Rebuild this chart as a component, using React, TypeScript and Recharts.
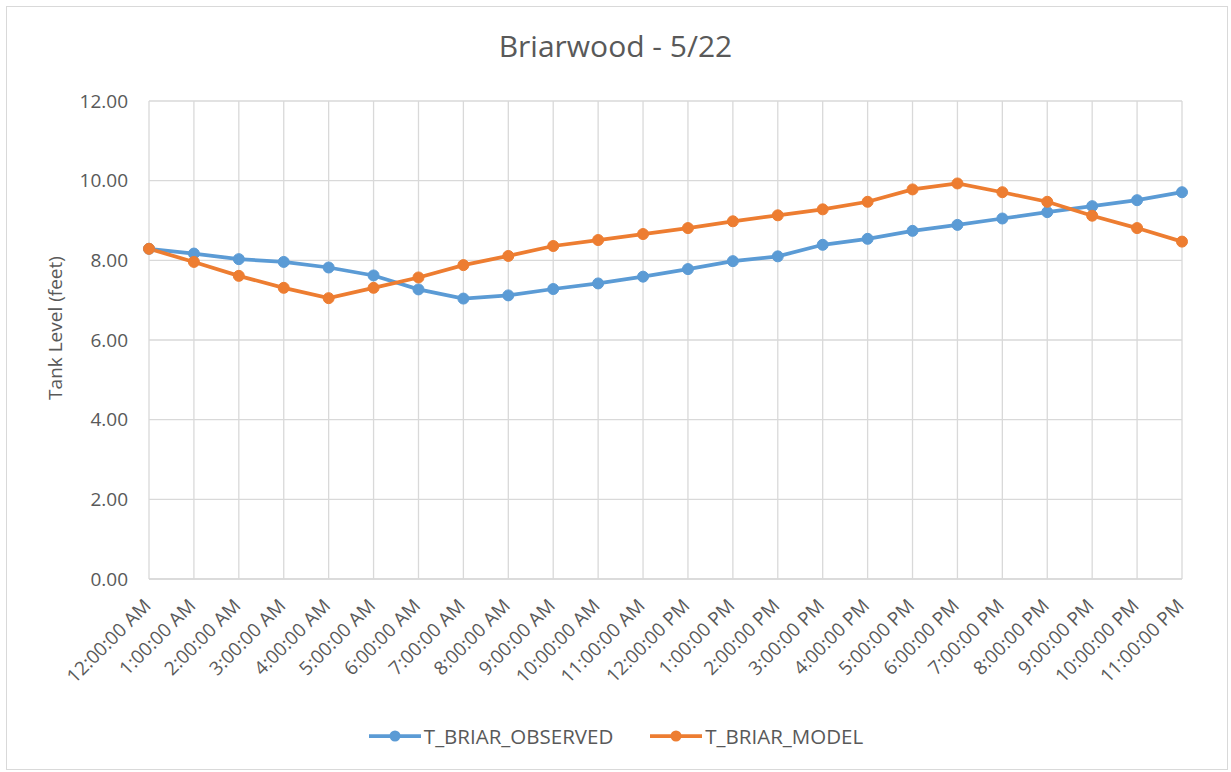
import { LineChart, Line, XAxis, YAxis, CartesianGrid } from 'recharts'

const hours = [
  '12:00:00 AM', '1:00:00 AM', '2:00:00 AM', '3:00:00 AM', '4:00:00 AM', '5:00:00 AM',
  '6:00:00 AM', '7:00:00 AM', '8:00:00 AM', '9:00:00 AM', '10:00:00 AM', '11:00:00 AM',
  '12:00:00 PM', '1:00:00 PM', '2:00:00 PM', '3:00:00 PM', '4:00:00 PM', '5:00:00 PM',
  '6:00:00 PM', '7:00:00 PM', '8:00:00 PM', '9:00:00 PM', '10:00:00 PM', '11:00:00 PM',
]

const observed = [
  8.29, 8.17, 8.03, 7.96, 7.82, 7.62, 7.27, 7.04, 7.12, 7.28, 7.42, 7.59,
  7.78, 7.98, 8.1, 8.39, 8.54, 8.74, 8.89, 9.05, 9.21, 9.36, 9.51, 9.71,
]

const model = [
  8.29, 7.96, 7.61, 7.31, 7.05, 7.31, 7.57, 7.88, 8.11, 8.36, 8.51, 8.66,
  8.81, 8.98, 9.13, 9.28, 9.47, 9.78, 9.93, 9.71, 9.47, 9.12, 8.81, 8.47,
]

const levelTicks = [0, 2, 4, 6, 8, 10, 12]

const BLUE = '#5b9bd5'
const ORANGE = '#ed7d31'
const TEXT = '#595959'
const GRID = '#d9d9d9'
const FONT = '"Open Sans", sans-serif'

const data = hours.map((h, i) => ({
  hour: h,
  T_BRIAR_OBSERVED: observed[i],
  T_BRIAR_MODEL: model[i],
}))

function HourTick({ x, y, payload }: { x?: number; y?: number; payload?: { value: string } }) {
  return (
    <g transform={`translate(${(x ?? 0) + 3},${(y ?? 0) + 26}) rotate(-45)`}>
      <text x={0} y={0} textAnchor="end" fill={TEXT} fontSize={19} fontFamily={FONT}>
        {payload?.value}
      </text>
    </g>
  )
}

function LegendItem({ color, label }: { color: string; label: string }) {
  return (
    <div style={{ display: 'flex', alignItems: 'center' }}>
      <svg width={54} height={12}>
        <line x1={1} y1={6} x2={53} y2={6} stroke={color} strokeWidth={3.75} />
        <circle cx={27} cy={6} r={5.5} fill={color} />
      </svg>
      <span style={{ marginLeft: 2 }}>{label}</span>
    </div>
  )
}

export default function App() {
  return (
    <div
      style={{
        position: 'absolute',
        left: 0,
        top: 0,
        width: 1231,
        height: 772,
        background: '#fff',
        fontFamily: FONT,
        color: TEXT,
      }}
    >
      <div
        style={{
          position: 'absolute',
          left: 6,
          top: 6,
          width: 1220,
          height: 762,
          border: `1px solid ${GRID}`,
        }}
      />
      <div
        style={{
          position: 'absolute',
          left: 0,
          top: 31,
          width: 1231,
          textAlign: 'center',
          fontSize: 30,
          lineHeight: '30px',
        }}
      >
        Briarwood - 5/22
      </div>
      <div
        style={{
          position: 'absolute',
          left: 55,
          top: 328,
          transform: 'translate(-50%, -50%) rotate(-90deg)',
          fontSize: 19,
          whiteSpace: 'nowrap',
        }}
      >
        Tank Level (feet)
      </div>
      <LineChart
        width={1231}
        height={772}
        data={data}
        margin={{ top: 101, right: 49, left: 0, bottom: 0 }}
        style={{ position: 'absolute', left: 0, top: 0 }}
      >
        <CartesianGrid stroke={GRID} strokeWidth={1.3} />
        <XAxis
          dataKey="hour"
          height={193}
          interval={0}
          axisLine={{ stroke: GRID, strokeWidth: 1.3 }}
          tickLine={false}
          tickSize={0}
          tick={<HourTick />}
        />
        <YAxis
          width={149}
          domain={[0, 12]}
          ticks={levelTicks}
          axisLine={false}
          tickLine={false}
          tickSize={0}
          tickMargin={21}
          tickFormatter={(v: number) => v.toFixed(2)}
          tick={{ fill: TEXT, fontSize: 19, fontFamily: FONT }}
        />
        <Line
          dataKey="T_BRIAR_OBSERVED"
          stroke={BLUE}
          strokeWidth={3.75}
          dot={{ r: 5.5, fill: BLUE, stroke: BLUE, strokeWidth: 1 }}
          isAnimationActive={false}
        />
        <Line
          dataKey="T_BRIAR_MODEL"
          stroke={ORANGE}
          strokeWidth={3.75}
          dot={{ r: 5.5, fill: ORANGE, stroke: ORANGE, strokeWidth: 1 }}
          isAnimationActive={false}
        />
      </LineChart>
      <div
        style={{
          position: 'absolute',
          left: 0,
          top: 721,
          width: 1231,
          display: 'flex',
          justifyContent: 'center',
          gap: 36,
          fontSize: 20.5,
          lineHeight: '30px',
        }}
      >
        <LegendItem color={BLUE} label="T_BRIAR_OBSERVED" />
        <LegendItem color={ORANGE} label="T_BRIAR_MODEL" />
      </div>
    </div>
  )
}
